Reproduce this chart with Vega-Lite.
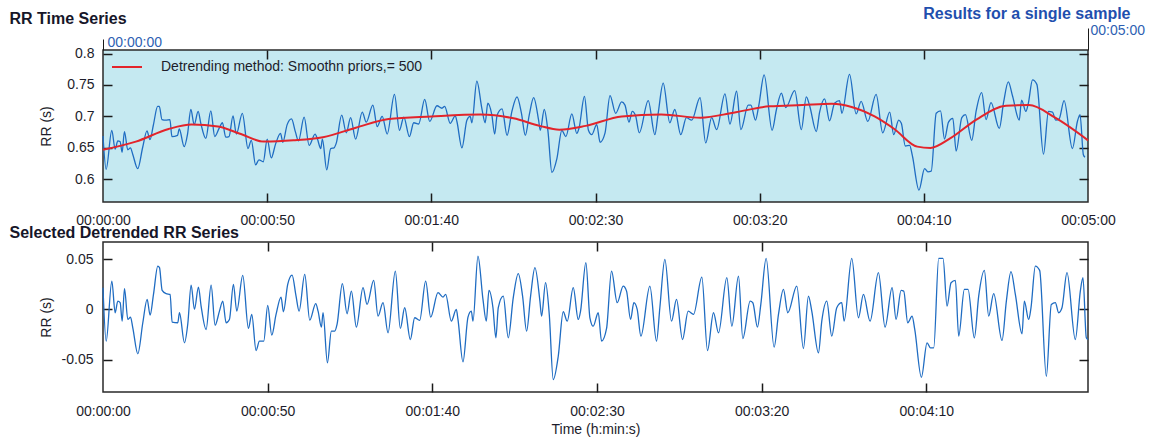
{
  "$schema": "https://vega.github.io/schema/vega-lite/v6.json",
  "padding": {"left": 8, "top": 4, "right": 0, "bottom": 0},
  "autosize": {"type": "pad"},
  "background": "white",
  "bounds": "flush",
  "spacing": 40,
  "resolve": {"legend": {"color": "independent"}},
  "config": {
    "font": "Liberation Sans",
    "axis": {"labelFont": "Liberation Sans", "titleFont": "Liberation Sans", "labelColor": "#1d1d2b", "titleColor": "#1d1d2b", "grid": false, "domain": false, "labelFontSize": 14, "titleFontSize": 14, "titleFontWeight": "normal", "tickColor": "#1a1a1a", "tickWidth": 1.5, "tickOpacity": 1, "labelOverlap": false, "labelFlush": false},
    "legend": {"labelFont": "Liberation Sans"}
  },
  "datasets": {
    "raw": [
{"t":0,"rr":0.669},{"t":0.96,"rr":0.616},{"t":2.68,"rr":0.678},{"t":3.69,"rr":0.648},{"t":4.5,"rr":0.661},{"t":5.21,"rr":0.66},{"t":5.82,"rr":0.643},{"t":6.53,"rr":0.676},{"t":7.54,"rr":0.647},{"t":8.35,"rr":0.65},{"t":9.05,"rr":0.64},{"t":10.57,"rr":0.617},{"t":12.09,"rr":0.651},{"t":13.4,"rr":0.677},{"t":14.31,"rr":0.663},{"t":15.33,"rr":0.686},{"t":16.64,"rr":0.716},{"t":17.15,"rr":0.716},{"t":17.96,"rr":0.695},{"t":19.17,"rr":0.694},{"t":20.38,"rr":0.695},{"t":20.99,"rr":0.668},{"t":22.71,"rr":0.67},{"t":23.22,"rr":0.68},{"t":24.73,"rr":0.652},{"t":25.75,"rr":0.672},{"t":26.76,"rr":0.711},{"t":27.77,"rr":0.687},{"t":28.98,"rr":0.708},{"t":29.79,"rr":0.689},{"t":31.31,"rr":0.665},{"t":32.83,"rr":0.709},{"t":34.04,"rr":0.668},{"t":35.36,"rr":0.681},{"t":36.37,"rr":0.69},{"t":37.38,"rr":0.667},{"t":38.39,"rr":0.668},{"t":39.6,"rr":0.701},{"t":40.62,"rr":0.672},{"t":42.44,"rr":0.705},{"t":44.16,"rr":0.649},{"t":45.17,"rr":0.662},{"t":46.48,"rr":0.623},{"t":47.5,"rr":0.631},{"t":48.81,"rr":0.628},{"t":50.02,"rr":0.664},{"t":51.24,"rr":0.634},{"t":52.55,"rr":0.656},{"t":54.07,"rr":0.673},{"t":54.78,"rr":0.659},{"t":56.09,"rr":0.687},{"t":57.41,"rr":0.696},{"t":58.62,"rr":0.675},
{"t":59.54,"rr":0.661},{"t":61.26,"rr":0.699},{"t":62.78,"rr":0.654},{"t":64.6,"rr":0.672},{"t":65.31,"rr":0.664},{"t":66.32,"rr":0.649},{"t":66.82,"rr":0.664},{"t":68.14,"rr":0.615},{"t":69.35,"rr":0.649},{"t":70.36,"rr":0.65},{"t":71.07,"rr":0.658},{"t":72.69,"rr":0.702},{"t":74.11,"rr":0.674},{"t":75.42,"rr":0.698},{"t":76.94,"rr":0.664},{"t":78.96,"rr":0.707},{"t":80.18,"rr":0.691},{"t":82.2,"rr":0.718},{"t":83.51,"rr":0.684},{"t":85.03,"rr":0.7},{"t":86.55,"rr":0.672},{"t":88.77,"rr":0.735},{"t":90.29,"rr":0.678},{"t":91.61,"rr":0.699},{"t":93.33,"rr":0.668},{"t":94.64,"rr":0.69},{"t":96.16,"rr":0.688},{"t":97.98,"rr":0.727},{"t":99.5,"rr":0.692},{"t":101.72,"rr":0.717},{"t":103.24,"rr":0.713},{"t":104.05,"rr":0.716},{"t":105.77,"rr":0.689},{"t":107.29,"rr":0.701},{"t":107.79,"rr":0.692},{"t":109.31,"rr":0.65},{"t":110.83,"rr":0.694},{"t":111.84,"rr":0.7},{"t":112.35,"rr":0.69},{"t":113.86,"rr":0.756},{"t":115.38,"rr":0.713},{"t":116.39,"rr":0.69},{"t":117.2,"rr":0.721},{"t":118.41,"rr":0.703},
{"t":119.3,"rr":0.672},{"t":120.03,"rr":0.702},{"t":121.54,"rr":0.712},{"t":123.06,"rr":0.67},{"t":124.58,"rr":0.709},{"t":126.1,"rr":0.731},{"t":127.41,"rr":0.706},{"t":128.63,"rr":0.67},{"t":129.84,"rr":0.703},{"t":131.16,"rr":0.73},{"t":132.67,"rr":0.694},{"t":133.18,"rr":0.678},{"t":134.39,"rr":0.711},{"t":135.51,"rr":0.677},{"t":136.72,"rr":0.611},{"t":138.24,"rr":0.633},{"t":139.75,"rr":0.678},{"t":140.97,"rr":0.668},{"t":142.79,"rr":0.704},{"t":144.31,"rr":0.673},{"t":145.01,"rr":0.682},{"t":146.63,"rr":0.732},{"t":147.85,"rr":0.678},{"t":148.86,"rr":0.671},{"t":150.38,"rr":0.687},{"t":151.39,"rr":0.659},{"t":152.91,"rr":0.674},{"t":154.42,"rr":0.733},{"t":156.14,"rr":0.705},{"t":157.96,"rr":0.723},{"t":158.98,"rr":0.718},{"t":160.19,"rr":0.691},{"t":161.2,"rr":0.708},{"t":162.21,"rr":0.701},{"t":163.33,"rr":0.674},{"t":166.06,"rr":0.725},{"t":168.08,"rr":0.671},{"t":169.09,"rr":0.705},{"t":170.61,"rr":0.753},{"t":172.63,"rr":0.69},{"t":174.15,"rr":0.711},{"t":175.97,"rr":0.671},{"t":177.69,"rr":0.698},
{"t":179.31,"rr":0.694},{"t":181.84,"rr":0.73},{"t":183.56,"rr":0.658},{"t":185.38,"rr":0.698},{"t":186.9,"rr":0.679},{"t":189.43,"rr":0.736},{"t":190.95,"rr":0.688},{"t":192.97,"rr":0.74},{"t":194.28,"rr":0.679},{"t":196.51,"rr":0.718},{"t":197.32,"rr":0.718},{"t":198.73,"rr":0.694},{"t":199.75,"rr":0.718},{"t":201.36,"rr":0.766},{"t":203.79,"rr":0.678},{"t":205.11,"rr":0.711},{"t":206.62,"rr":0.737},{"t":207.94,"rr":0.714},{"t":210.67,"rr":0.741},{"t":212.69,"rr":0.679},{"t":214.21,"rr":0.731},{"t":215.22,"rr":0.717},{"t":217.25,"rr":0.676},{"t":218.26,"rr":0.707},{"t":219.78,"rr":0.728},{"t":221.29,"rr":0.693},{"t":222.81,"rr":0.721},{"t":224.33,"rr":0.725},{"t":225.04,"rr":0.705},{"t":227.36,"rr":0.767},{"t":229.39,"rr":0.704},{"t":230.91,"rr":0.724},{"t":232.93,"rr":0.692},{"t":235.46,"rr":0.735},{"t":237.48,"rr":0.674},
{"t":239.61,"rr":0.707},{"t":240.82,"rr":0.671},{"t":242.34,"rr":0.694},{"t":243.15,"rr":0.689},{"t":244.36,"rr":0.653},{"t":245.68,"rr":0.654},{"t":246.49,"rr":0.638},{"t":248.51,"rr":0.583},{"t":250.23,"rr":0.617},{"t":251.24,"rr":0.612},{"t":252.25,"rr":0.613},{"t":253.77,"rr":0.705},{"t":255.08,"rr":0.709},{"t":256.3,"rr":0.664},{"t":257.51,"rr":0.691},{"t":258.83,"rr":0.697},{"t":259.84,"rr":0.645},{"t":261.56,"rr":0.698},{"t":262.67,"rr":0.703},{"t":264.59,"rr":0.662},{"t":265.91,"rr":0.708},{"t":267.63,"rr":0.738},{"t":268.94,"rr":0.695},{"t":270.46,"rr":0.722},{"t":272.99,"rr":0.681},{"t":274.31,"rr":0.723},{"t":275.72,"rr":0.755},{"t":277.04,"rr":0.732},{"t":279.06,"rr":0.694},{"t":279.77,"rr":0.726},{"t":281.08,"rr":0.708},{"t":281.79,"rr":0.72},{"t":283.11,"rr":0.758},{"t":284.42,"rr":0.751},{"t":286.45,"rr":0.64},{"t":287.96,"rr":0.708},{"t":289.18,"rr":0.707},{"t":290.19,"rr":0.694},{"t":291.2,"rr":0.696},{"t":292.72,"rr":0.725},{"t":295.25,"rr":0.649},{"t":296.77,"rr":0.692},{"t":297.57,"rr":0.703},{"t":298.59,"rr":0.639},{"t":299.09,"rr":0.635}
    ],
    "trend": [
{"t":0,"rr":0.647},{"t":10,"rr":0.66},{"t":20,"rr":0.68},{"t":27,"rr":0.687},{"t":35,"rr":0.684},{"t":42,"rr":0.672},{"t":49,"rr":0.66},{"t":58,"rr":0.662},{"t":67,"rr":0.667},{"t":77,"rr":0.682},{"t":87,"rr":0.696},{"t":100,"rr":0.7},{"t":115,"rr":0.703},{"t":125,"rr":0.697},{"t":133,"rr":0.685},{"t":139,"rr":0.679},{"t":147,"rr":0.685},{"t":158,"rr":0.7},{"t":170,"rr":0.703},{"t":182,"rr":0.698},{"t":192,"rr":0.706},{"t":203,"rr":0.716},{"t":213,"rr":0.718},{"t":222,"rr":0.72},{"t":228,"rr":0.715},{"t":235,"rr":0.7},{"t":241,"rr":0.68},{"t":248,"rr":0.652},{"t":252,"rr":0.65},{"t":258,"rr":0.665},{"t":266,"rr":0.695},{"t":275,"rr":0.717},{"t":282,"rr":0.718},{"t":290,"rr":0.698},{"t":300,"rr":0.662}
    ],
    "detr": [
{"t":0,"v":0.0217},{"t":0.96,"v":-0.0317},{"t":2.68,"v":0.0283},{"t":3.69,"v":-0.0033},{"t":4.5,"v":0.0083},{"t":5.21,"v":0.0067},{"t":5.82,"v":-0.0117},{"t":6.53,"v":0.0207},{"t":7.54,"v":-0.01},{"t":8.35,"v":-0.0077},{"t":9.05,"v":-0.0183},{"t":10.57,"v":-0.0443},{"t":12.09,"v":-0.0133},{"t":13.4,"v":0.01},{"t":14.31,"v":-0.0057},{"t":15.33,"v":0.015},{"t":16.64,"v":0.0433},{"t":17.15,"v":0.0417},{"t":17.96,"v":0.019},{"t":19.17,"v":0.0157},{"t":20.38,"v":0.015},{"t":20.99,"v":-0.0127},{"t":22.71,"v":-0.0133},{"t":23.22,"v":-0.0033},{"t":24.73,"v":-0.0333},{"t":25.75,"v":-0.0143},{"t":26.76,"v":0.0243},{"t":27.77,"v":0},{"t":28.98,"v":0.0223},{"t":29.79,"v":0.0033},{"t":31.31,"v":-0.02},{"t":32.83,"v":0.0243},{"t":34.04,"v":-0.0157},{"t":35.36,"v":-0.0017},{"t":36.37,"v":0.0083},{"t":37.38,"v":-0.0133},{"t":38.39,"v":-0.01},{"t":39.6,"v":0.025},{"t":40.62,"v":-0.0017},{"t":42.44,"v":0.034},{"t":44.16,"v":-0.019},{"t":45.17,"v":-0.005},{"t":46.48,"v":-0.041},{"t":47.5,"v":-0.0317},{"t":48.81,"v":-0.0317},{"t":50.02,"v":0.004},{"t":51.24,"v":-0.0257},{"t":52.55,"v":-0.005},{"t":54.07,"v":0.0123},{"t":54.78,"v":-0.0023},{"t":56.09,"v":0.025},{"t":57.41,"v":0.0343},{"t":58.62,"v":0.0133},
{"t":59.54,"v":-0.0017},{"t":61.26,"v":0.035},{"t":62.78,"v":-0.0107},{"t":64.6,"v":0.0057},{"t":65.31,"v":-0.0017},{"t":66.32,"v":-0.0177},{"t":66.82,"v":-0.0033},{"t":68.14,"v":-0.0533},{"t":69.35,"v":-0.0217},{"t":70.36,"v":-0.0217},{"t":71.07,"v":-0.015},{"t":72.69,"v":0.0257},{"t":74.11,"v":-0.0043},{"t":75.42,"v":0.0183},{"t":76.94,"v":-0.0177},{"t":78.96,"v":0.0217},{"t":80.18,"v":0.005},{"t":82.2,"v":0.029},{"t":83.51,"v":-0.0067},{"t":85.03,"v":0.0067},{"t":86.55,"v":-0.0233},{"t":88.77,"v":0.0383},{"t":90.29,"v":-0.019},{"t":91.61,"v":0.0017},{"t":93.33,"v":-0.03},{"t":94.64,"v":-0.0083},{"t":96.16,"v":-0.011},{"t":97.98,"v":0.0283},{"t":99.5,"v":-0.0077},{"t":101.72,"v":0.0167},{"t":103.24,"v":0.0123},{"t":104.05,"v":0.015},{"t":105.77,"v":-0.0117},{"t":107.29,"v":0},{"t":107.79,"v":-0.01},{"t":109.31,"v":-0.0523},{"t":110.83,"v":-0.0077},{"t":111.84,"v":-0.0017},{"t":112.35,"v":-0.0117},{"t":113.86,"v":0.0533},{"t":115.38,"v":0.01},{"t":116.39,"v":-0.0117},{"t":117.2,"v":0.019},{"t":118.41,"v":0.0017},
{"t":119.3,"v":-0.0283},{"t":120.03,"v":0.0017},{"t":121.54,"v":0.0133},{"t":123.06,"v":-0.0283},{"t":124.58,"v":0.0117},{"t":126.1,"v":0.0357},{"t":127.41,"v":0.0133},{"t":128.63,"v":-0.0217},{"t":129.84,"v":0.0133},{"t":131.16,"v":0.0417},{"t":132.67,"v":0.0083},{"t":133.18,"v":-0.0067},{"t":134.39,"v":0.0267},{"t":135.51,"v":-0.005},{"t":136.72,"v":-0.07},{"t":138.24,"v":-0.0467},{"t":139.75,"v":-0.0023},{"t":140.97,"v":-0.0117},{"t":142.79,"v":0.0217},{"t":144.31,"v":-0.01},{"t":145.01,"v":-0.0017},{"t":146.63,"v":0.0467},{"t":147.85,"v":-0.0083},{"t":148.86,"v":-0.0167},{"t":150.38,"v":-0.0033},{"t":151.39,"v":-0.0317},{"t":152.91,"v":-0.019},{"t":154.42,"v":0.0383},{"t":156.14,"v":0.0067},{"t":157.96,"v":0.0233},{"t":158.98,"v":0.0183},{"t":160.19,"v":-0.01},{"t":161.2,"v":0.0067},{"t":162.21,"v":0},{"t":163.33,"v":-0.0267},{"t":166.06,"v":0.0233},{"t":168.08,"v":-0.0317},{"t":169.09,"v":0.0017},{"t":170.61,"v":0.05},{"t":172.63,"v":-0.0117},{"t":174.15,"v":0.01},{"t":175.97,"v":-0.03},{"t":177.69,"v":-0.0017},
{"t":179.31,"v":-0.005},{"t":181.84,"v":0.0323},{"t":183.56,"v":-0.041},{"t":185.38,"v":-0.0033},{"t":186.9,"v":-0.0233},{"t":189.43,"v":0.0317},{"t":190.95,"v":-0.0167},{"t":192.97,"v":0.0333},{"t":194.28,"v":-0.029},{"t":196.51,"v":0.0083},{"t":197.32,"v":0.0067},{"t":198.73,"v":-0.0177},{"t":199.75,"v":0.005},{"t":201.36,"v":0.051},{"t":203.79,"v":-0.0377},{"t":205.11,"v":-0.005},{"t":206.62,"v":0.02},{"t":207.94,"v":-0.0033},{"t":210.67,"v":0.0233},{"t":212.69,"v":-0.039},{"t":214.21,"v":0.0133},{"t":215.22,"v":-0.0017},{"t":217.25,"v":-0.0433},{"t":218.26,"v":-0.0117},{"t":219.78,"v":0.0083},{"t":221.29,"v":-0.0267},{"t":222.81,"v":0.0017},{"t":224.33,"v":0.0067},{"t":225.04,"v":-0.0117},{"t":227.36,"v":0.051},{"t":229.39,"v":-0.0083},{"t":230.91,"v":0.015},{"t":232.93,"v":-0.0117},{"t":235.46,"v":0.0367},{"t":237.48,"v":-0.0177},
{"t":239.61,"v":0.0217},{"t":240.82,"v":-0.01},{"t":242.34,"v":0.019},{"t":243.15,"v":0.0183},{"t":244.36,"v":-0.0133},{"t":245.68,"v":-0.0067},{"t":246.49,"v":-0.02},{"t":248.51,"v":-0.0677},{"t":250.23,"v":-0.0333},{"t":251.24,"v":-0.0383},{"t":252.25,"v":-0.0383},{"t":253.77,"v":0.051},{"t":255.08,"v":0.051},{"t":256.3,"v":0.0033},{"t":257.51,"v":0.0267},{"t":258.83,"v":0.029},{"t":259.84,"v":-0.0267},{"t":261.56,"v":0.02},{"t":262.67,"v":0.02},{"t":264.59,"v":-0.0283},{"t":265.91,"v":0.0133},{"t":267.63,"v":0.039},{"t":268.94,"v":-0.0067},{"t":270.46,"v":0.0157},{"t":272.99,"v":-0.031},{"t":274.31,"v":0.0083},{"t":275.72,"v":0.0377},{"t":277.04,"v":0.015},{"t":279.06,"v":-0.0243},{"t":279.77,"v":0.0083},{"t":281.08,"v":-0.01},{"t":281.79,"v":0.0017},{"t":283.11,"v":0.0433},{"t":284.42,"v":0.039},{"t":286.45,"v":-0.0667},{"t":287.96,"v":0.005},{"t":289.18,"v":0.0067},{"t":290.19,"v":-0.0033},{"t":291.2,"v":0.0017},{"t":292.72,"v":0.0367},{"t":295.25,"v":-0.03},{"t":296.77,"v":0.0183},{"t":297.57,"v":0.0317},{"t":298.59,"v":-0.0283},{"t":299.09,"v":-0.03}
    ]
  },
  "vconcat": [
    {
      "width": 985,
      "height": 152,
      "view": {"fill": "#c5e9f1", "stroke": "#2a2a2a", "strokeWidth": 1.5},
      "resolve": {"axis": {"x": "independent", "y": "independent"}},
      "layer": [
        {
          "data": {"name": "raw"},
          "mark": {"type": "line", "color": "#1f6cc2", "strokeWidth": 1.3, "interpolate": "monotone"},
          "encoding": {
            "x": {"field": "t", "type": "quantitative", "scale": {"domain": [0, 300], "nice": false, "zero": false},
              "axis": {"orient": "bottom", "values": [0, 50, 100, 150, 200, 250, 300], "labelExpr": "'00:0' + floor(datum.value/60) + ':' + (datum.value % 60 < 10 ? '0' : '') + (datum.value % 60)", "ticks": false, "tickSize": 0, "labelPadding": 22, "labelBaseline": "alphabetic", "title": "Selected Detrended RR Series", "titleX": -94, "titleY": 35, "titleAlign": "left", "titleAnchor": "start", "titleBaseline": "alphabetic", "titleFontSize": 16, "titleFontWeight": "bold", "titleColor": "#161629"}},
            "y": {"field": "rr", "type": "quantitative", "scale": {"domain": [0.564, 0.8056], "nice": false, "zero": false},
              "axis": {"orient": "left", "values": [0.6, 0.65, 0.7, 0.75, 0.8], "labelExpr": "datum.value + ''", "ticks": false, "tickSize": 0, "labelPadding": 9, "title": "RR (s)", "titleX": -57, "titleBaseline": "middle"}}
          }
        },
        {
          "data": {"name": "trend"},
          "mark": {"type": "line", "strokeWidth": 2, "interpolate": "monotone"},
          "encoding": {
            "x": {"field": "t", "type": "quantitative", "scale": {"domain": [0, 300], "nice": false, "zero": false},
              "axis": {"orient": "top", "values": [0], "labelExpr": "'00:00:00'", "ticks": true, "tickSize": 11, "tickWidth": 1, "labelPadding": -7, "labelBaseline": "alphabetic", "labelAlign": "left", "labelOffset": 4, "labelColor": "#2e5fb3", "title": "RR Time Series", "titleX": -94, "titleY": -27, "titleAlign": "left", "titleAnchor": "start", "titleBaseline": "alphabetic", "titleFontSize": 16, "titleFontWeight": "bold", "titleColor": "#161629"}},
            "y": {"field": "rr", "type": "quantitative", "scale": {"domain": [0.564, 0.8056], "nice": false, "zero": false},
              "axis": {"orient": "right", "values": [0.6, 0.65, 0.7, 0.75, 0.8], "ticks": true, "tickSize": 9, "offset": -9, "labels": false, "title": null}},
            "color": {"datum": "Detrending method: Smoothn priors,= 500", "type": "nominal", "scale": {"range": ["#e3242b"]},
              "legend": {"orient": "none", "legendX": 8, "legendY": 1, "title": null, "symbolType": "stroke", "symbolSize": 900, "symbolStrokeWidth": 2, "labelFontSize": 14, "labelColor": "#1d1d2b", "labelOffset": 18, "padding": 0, "labelLimit": 0}}
          }
        },
        {
          "data": {"name": "trend"},
          "mark": {"type": "line", "strokeOpacity": 0},
          "encoding": {
            "x": {"field": "t", "type": "quantitative", "scale": {"domain": [0, 300], "nice": false, "zero": false},
              "axis": {"orient": "top", "values": [300], "labelExpr": "'00:05:00'", "ticks": true, "tickSize": 22, "tickWidth": 1, "labelPadding": -6, "labelBaseline": "alphabetic", "labelAlign": "left", "labelOffset": 2, "labelColor": "#2e5fb3", "title": "Results for a single sample", "titleX": 1027, "titleY": -32, "titleAlign": "right", "titleBaseline": "alphabetic", "titleFontSize": 16, "titleFontWeight": "bold", "titleColor": "#1f4fae"}},
            "y": {"field": "rr", "type": "quantitative", "scale": {"domain": [0.564, 0.8056], "nice": false, "zero": false},
              "axis": {"orient": "left", "values": [0.6, 0.65, 0.7, 0.75, 0.8], "ticks": true, "tickSize": 9, "offset": -9, "labels": false, "title": null}}
          }
        },
        {
          "data": {"name": "trend"},
          "mark": {"type": "line", "strokeOpacity": 0},
          "encoding": {
            "x": {"field": "t", "type": "quantitative", "scale": {"domain": [0, 300], "nice": false, "zero": false},
              "axis": {"orient": "top", "values": [50, 100, 150, 200, 250], "ticks": true, "tickSize": 9, "offset": -9, "labels": false, "title": null}},
            "y": {"field": "rr", "type": "quantitative", "scale": {"domain": [0.564, 0.8056], "nice": false, "zero": false}, "axis": null}
          }
        },
        {
          "data": {"name": "trend"},
          "mark": {"type": "line", "strokeOpacity": 0},
          "encoding": {
            "x": {"field": "t", "type": "quantitative", "scale": {"domain": [0, 300], "nice": false, "zero": false},
              "axis": {"orient": "bottom", "values": [50, 100, 150, 200, 250], "ticks": true, "tickSize": 9, "offset": -9, "labels": false, "title": null}},
            "y": {"field": "rr", "type": "quantitative", "scale": {"domain": [0.564, 0.8056], "nice": false, "zero": false}, "axis": null}
          }
        }
      ]
    },
    {
      "width": 985,
      "height": 150,
      "view": {"fill": "white", "stroke": "#2a2a2a", "strokeWidth": 1.5},
      "resolve": {"axis": {"x": "independent", "y": "independent"}},
      "layer": [
        {
          "data": {"name": "detr"},
          "mark": {"type": "line", "color": "#1f6cc2", "strokeWidth": 1.3, "interpolate": "monotone"},
          "encoding": {
            "x": {"field": "t", "type": "quantitative", "scale": {"domain": [0, 299.1], "nice": false, "zero": false},
              "axis": {"orient": "bottom", "values": [0, 50, 100, 150, 200, 250], "labelExpr": "'00:0' + floor(datum.value/60) + ':' + (datum.value % 60 < 10 ? '0' : '') + (datum.value % 60)", "ticks": false, "tickSize": 0, "labelPadding": 23, "labelBaseline": "alphabetic", "title": "Time (h:min:s)", "titleY": 41, "titleBaseline": "alphabetic"}},
            "y": {"field": "v", "type": "quantitative", "scale": {"domain": [-0.0824, 0.0673], "nice": false, "zero": false},
              "axis": {"orient": "left", "values": [-0.05, 0, 0.05], "labelExpr": "datum.value + ''", "ticks": false, "tickSize": 0, "labelPadding": 10, "title": "RR (s)", "titleX": -57, "titleBaseline": "middle"}}
          }
        },
        {
          "data": {"name": "detr"},
          "mark": {"type": "line", "strokeOpacity": 0},
          "encoding": {
            "x": {"field": "t", "type": "quantitative", "scale": {"domain": [0, 299.1], "nice": false, "zero": false},
              "axis": {"orient": "bottom", "values": [50, 100, 150, 200, 250], "ticks": true, "tickSize": 9, "offset": -9, "labels": false, "title": null}},
            "y": {"field": "v", "type": "quantitative", "scale": {"domain": [-0.0824, 0.0673], "nice": false, "zero": false},
              "axis": {"orient": "left", "values": [-0.05, 0, 0.05], "ticks": true, "tickSize": 9, "offset": -9, "labels": false, "title": null}}
          }
        },
        {
          "data": {"name": "detr"},
          "mark": {"type": "line", "strokeOpacity": 0},
          "encoding": {
            "x": {"field": "t", "type": "quantitative", "scale": {"domain": [0, 299.1], "nice": false, "zero": false},
              "axis": {"orient": "top", "values": [50, 100, 150, 200, 250], "ticks": true, "tickSize": 9, "offset": -9, "labels": false, "title": null}},
            "y": {"field": "v", "type": "quantitative", "scale": {"domain": [-0.0824, 0.0673], "nice": false, "zero": false},
              "axis": {"orient": "right", "values": [-0.05, 0, 0.05], "ticks": true, "tickSize": 9, "offset": -9, "labels": false, "title": null}}
          }
        }
      ]
    }
  ]
}
